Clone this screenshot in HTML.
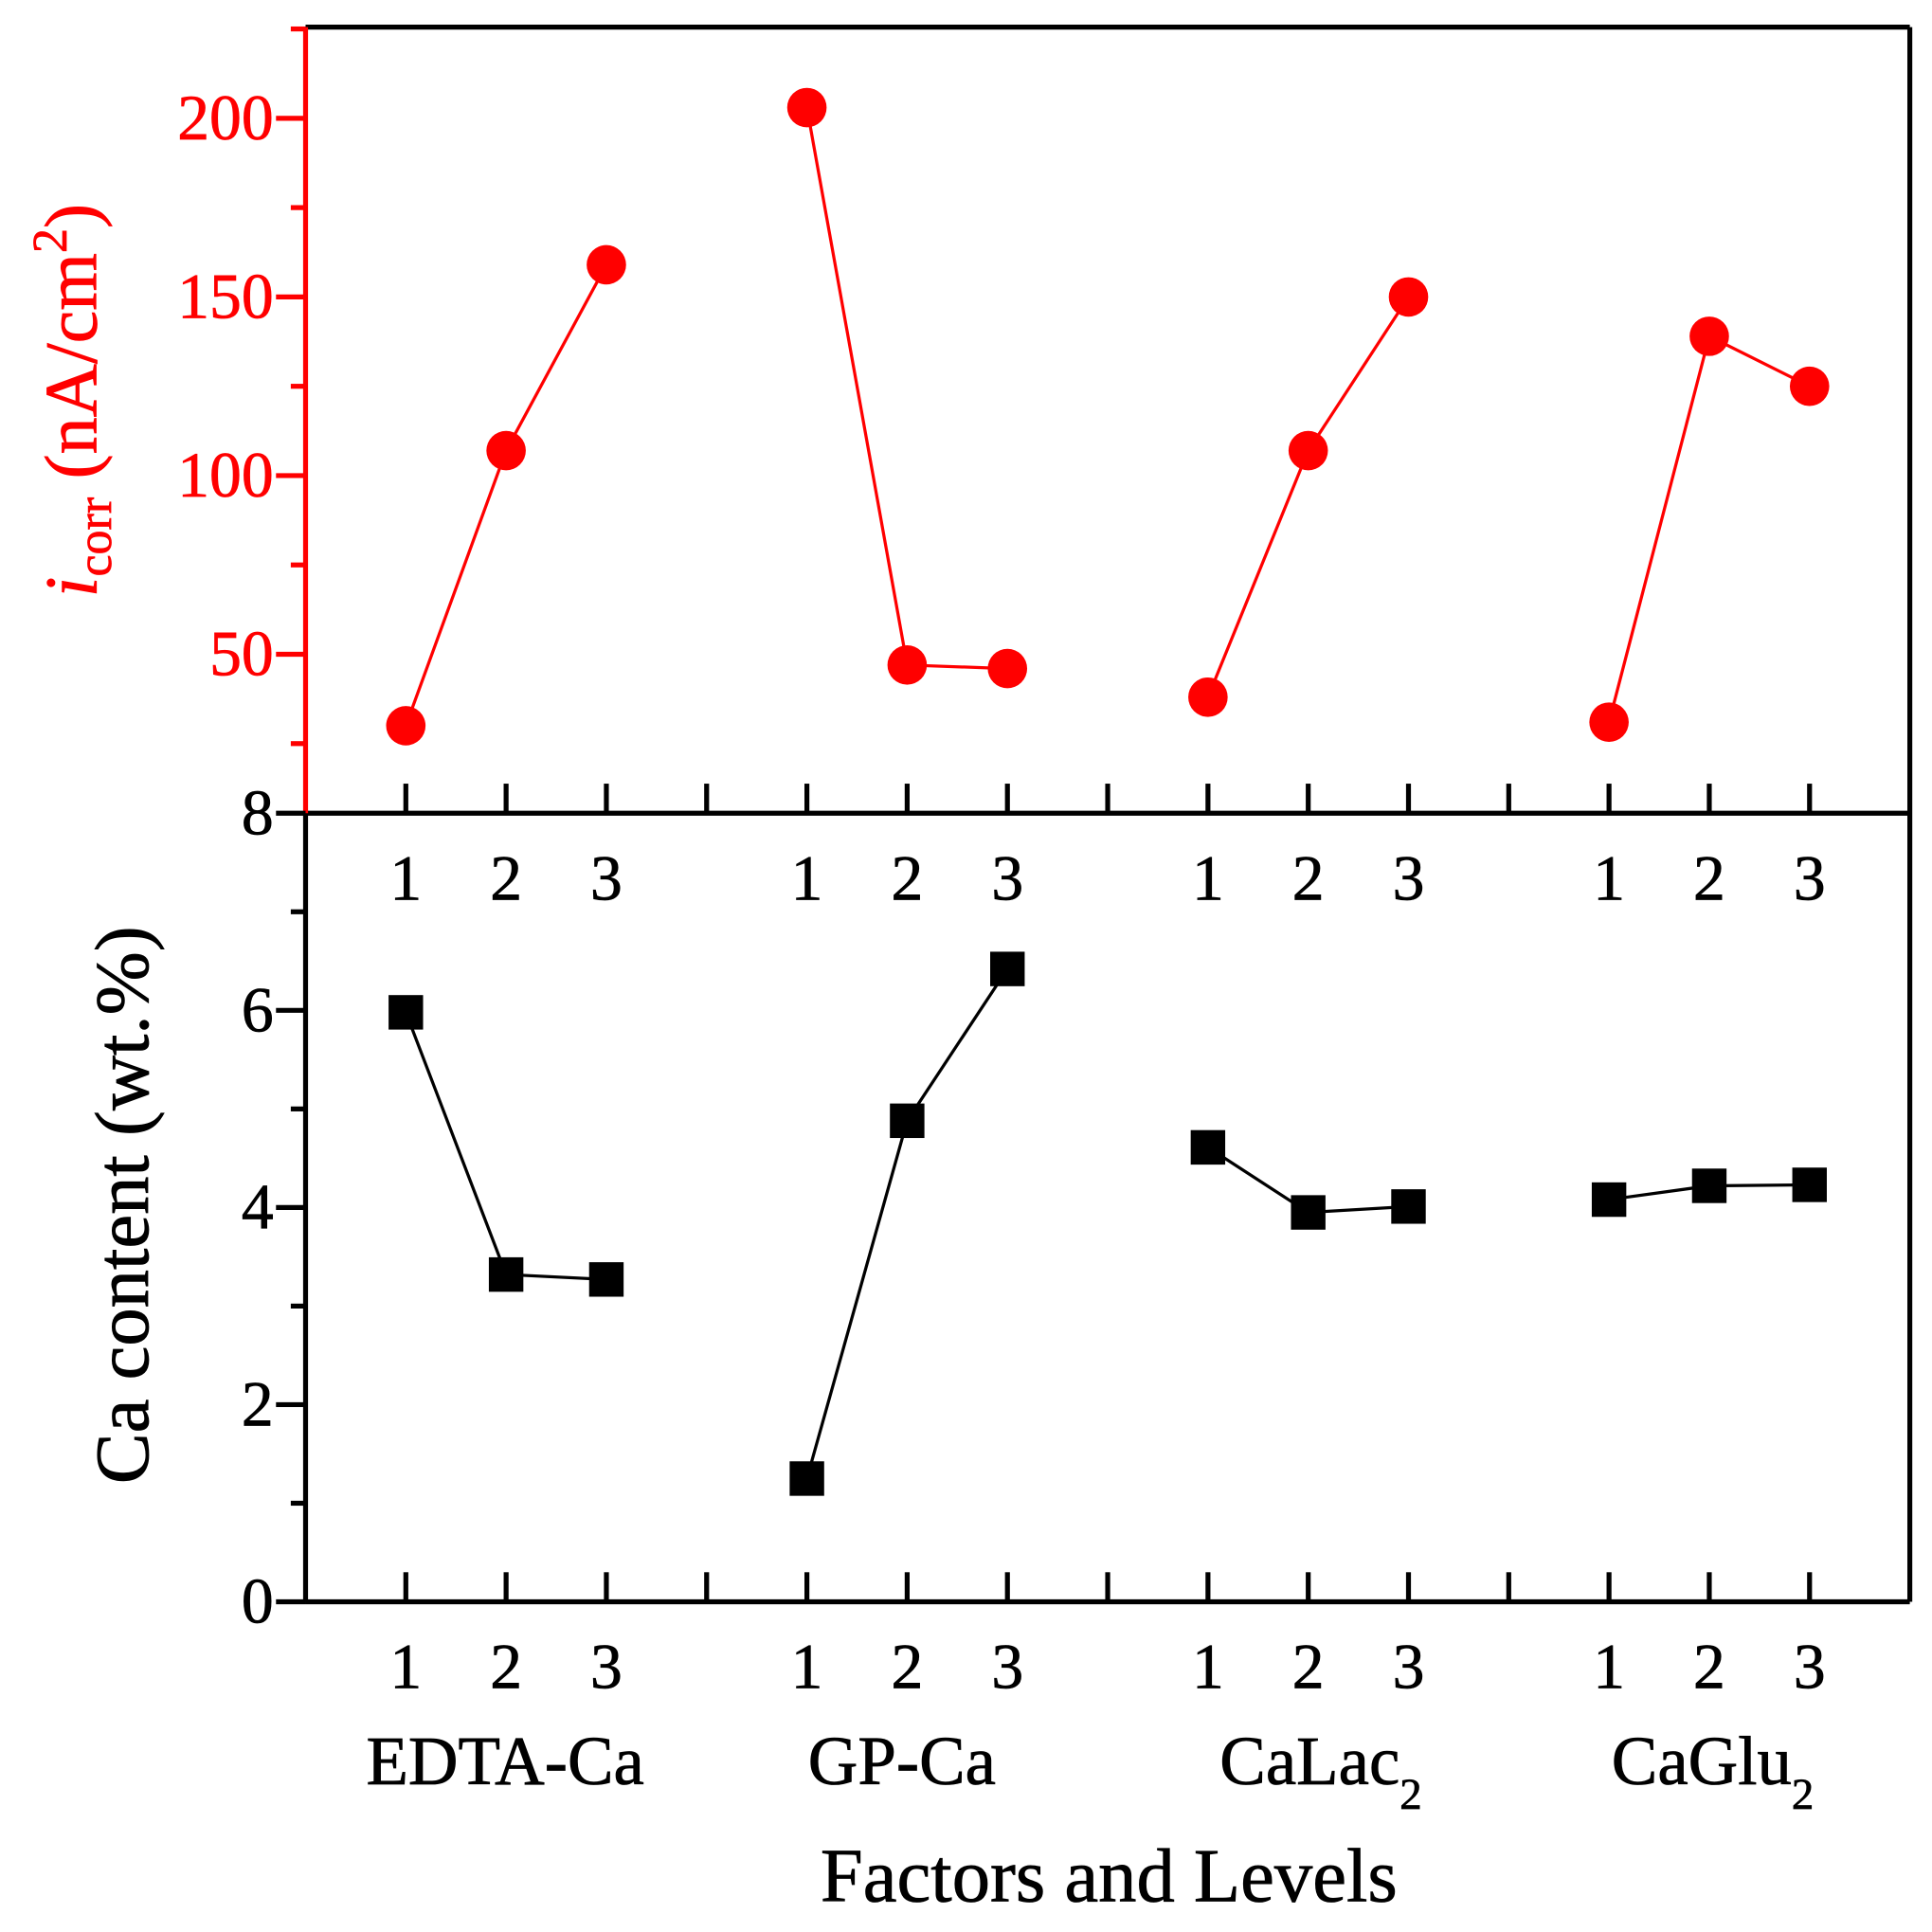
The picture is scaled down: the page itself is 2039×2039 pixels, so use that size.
<!DOCTYPE html>
<html><head><meta charset="utf-8"><style>html,body{margin:0;padding:0;background:#fff}svg{display:block}text{font-family:"Liberation Serif",serif}</style></head>
<body>
<svg id="chart" width="2039" height="2039" viewBox="0 0 1568 1568" xmlns="http://www.w3.org/2000/svg">
<g id="g"></g>
</svg>
<script>
const categories = ["EDTA-Ca","GP-Ca","CaLac2","CaGlu2"];
const levels = ["1","2","3"];
const icorrValues = [[30,107,159],[203,47,46],[38,107,150],[31,139,125]];
const caValues = [[5.98,3.32,3.27],[1.25,4.88,6.42],[4.61,3.95,4.01],[4.08,4.22,4.23]];
const topTicks = [50,100,150,200];
const botTicks = [0,2,4,6,8];

const NS="http://www.w3.org/2000/svg";
const g=document.getElementById('g');
function el(t,a,txt){const e=document.createElementNS(NS,t);for(const k in a)e.setAttribute(k,a[k]);if(txt!==undefined)e.textContent=txt;g.appendChild(e);return e;}
const L=248,R=1550,T=22,M=660,B=1300;
const xPos=i=>L+(i+1)*(R-L)/16;
const yTop=v=>676-v*2.9;
const yBot=v=>B-v*80;
const STK=0.6;

let e;
e=el('line',{x1:L,y1:T,x2:R,y2:T,stroke:'#000','stroke-width':4});

e=el('line',{x1:R,y1:T,x2:R,y2:B,stroke:'#000','stroke-width':4});

e=el('line',{x1:L,y1:M,x2:R,y2:M,stroke:'#000','stroke-width':4});

e=el('line',{x1:L,y1:B,x2:R,y2:B,stroke:'#000','stroke-width':4});

e=el('line',{x1:L,y1:M,x2:L,y2:B,stroke:'#000','stroke-width':4});

e=el('line',{x1:L,y1:T,x2:L,y2:M,stroke:'#f00','stroke-width':4});


for(let i=0;i<15;i++){
  const x=xPos(i);
  e=el('line',{x1:x,y1:M,x2:x,y2:M-24,stroke:'#000','stroke-width':4});
  
  e=el('line',{x1:x,y1:B,x2:x,y2:B-24,stroke:'#000','stroke-width':4});
  
}
categories.forEach((c,ci)=>{levels.forEach((lv,li)=>{
  const x=xPos(ci*4+li);
  e=el('text',{x:x,y:730,'font-size':52,'text-anchor':'middle',stroke:'#000','stroke-width':STK},lv);
  
  e=el('text',{x:x,y:1370,'font-size':52,'text-anchor':'middle',stroke:'#000','stroke-width':STK},lv);
  
});});
const catX=[410,732,1072,1390];
const catSpecs=[["EDTA-Ca",""],["GP-Ca",""],["CaLac","2"],["CaGlu","2"]];
catSpecs.forEach((s,i)=>{
  e=el('text',{x:catX[i],y:1448,'font-size':56,'text-anchor':'middle',stroke:'#000','stroke-width':STK});
  
  const t1=document.createElementNS(NS,'tspan');t1.textContent=s[0];e.appendChild(t1);
  if(s[1]){const t2=document.createElementNS(NS,'tspan');t2.setAttribute('font-size','36');t2.setAttribute('dy','20');t2.textContent=s[1];e.appendChild(t2);}
});
e=el('text',{x:900,y:1543,'font-size':62,'text-anchor':'middle',stroke:'#000','stroke-width':STK},'Factors and Levels');


for(let v=25;v<=225;v+=25){
  const y=yTop(v); if(y<T||y>M)continue;
  const major=v%50===0;
  e=el('line',{x1:L,y1:y,x2:L-(major?24:12),y2:y,stroke:'#f00','stroke-width':4});
  
}
topTicks.forEach(v=>{
  e=el('text',{x:222,y:yTop(v)+17,'font-size':52,'text-anchor':'end',fill:'#f00',stroke:'#f00','stroke-width':STK},String(v));
  
});
for(let v=0;v<=8;v++){
  const y=yBot(v);const major=v%2===0;
  e=el('line',{x1:L,y1:y,x2:L-(major?24:12),y2:y,stroke:'#000','stroke-width':4});
  
}
botTicks.forEach(v=>{
  e=el('text',{x:222,y:yBot(v)+17,'font-size':52,'text-anchor':'end',stroke:'#000','stroke-width':STK},String(v));
  
});
e=el('text',{x:0,y:0,'font-size':60,'text-anchor':'middle',fill:'#f00',stroke:'#f00','stroke-width':STK,transform:'translate(78,325) rotate(-90)'});

e.innerHTML='<tspan font-style="italic">i</tspan><tspan font-size="40" dy="12">corr</tspan><tspan dy="-12"> (nA/cm</tspan><tspan font-size="40" dy="-24">2</tspan><tspan dy="24">)</tspan>';
e=el('text',{x:0,y:0,'font-size':62,'text-anchor':'middle',stroke:'#000','stroke-width':STK,transform:'translate(120,978) rotate(-90)'},'Ca content (wt.%)');


categories.forEach((c,ci)=>{
  const xs=levels.map((_,li)=>xPos(ci*4+li));
  e=el('polyline',{points:xs.map((x,li)=>x+','+yTop(icorrValues[ci][li])).join(' '),fill:'none',stroke:'#f00','stroke-width':2.5});
  
  e=el('polyline',{points:xs.map((x,li)=>x+','+yBot(caValues[ci][li])).join(' '),fill:'none',stroke:'#000','stroke-width':2.5});
  
  xs.forEach((x,li)=>{
    e=el('circle',{cx:x,cy:yTop(icorrValues[ci][li]),r:16,fill:'#f00'});
    
    e=el('rect',{x:x-14,y:yBot(caValues[ci][li])-14,width:28,height:28,fill:'#000'});
    
  });
});
</script>
</body></html>
